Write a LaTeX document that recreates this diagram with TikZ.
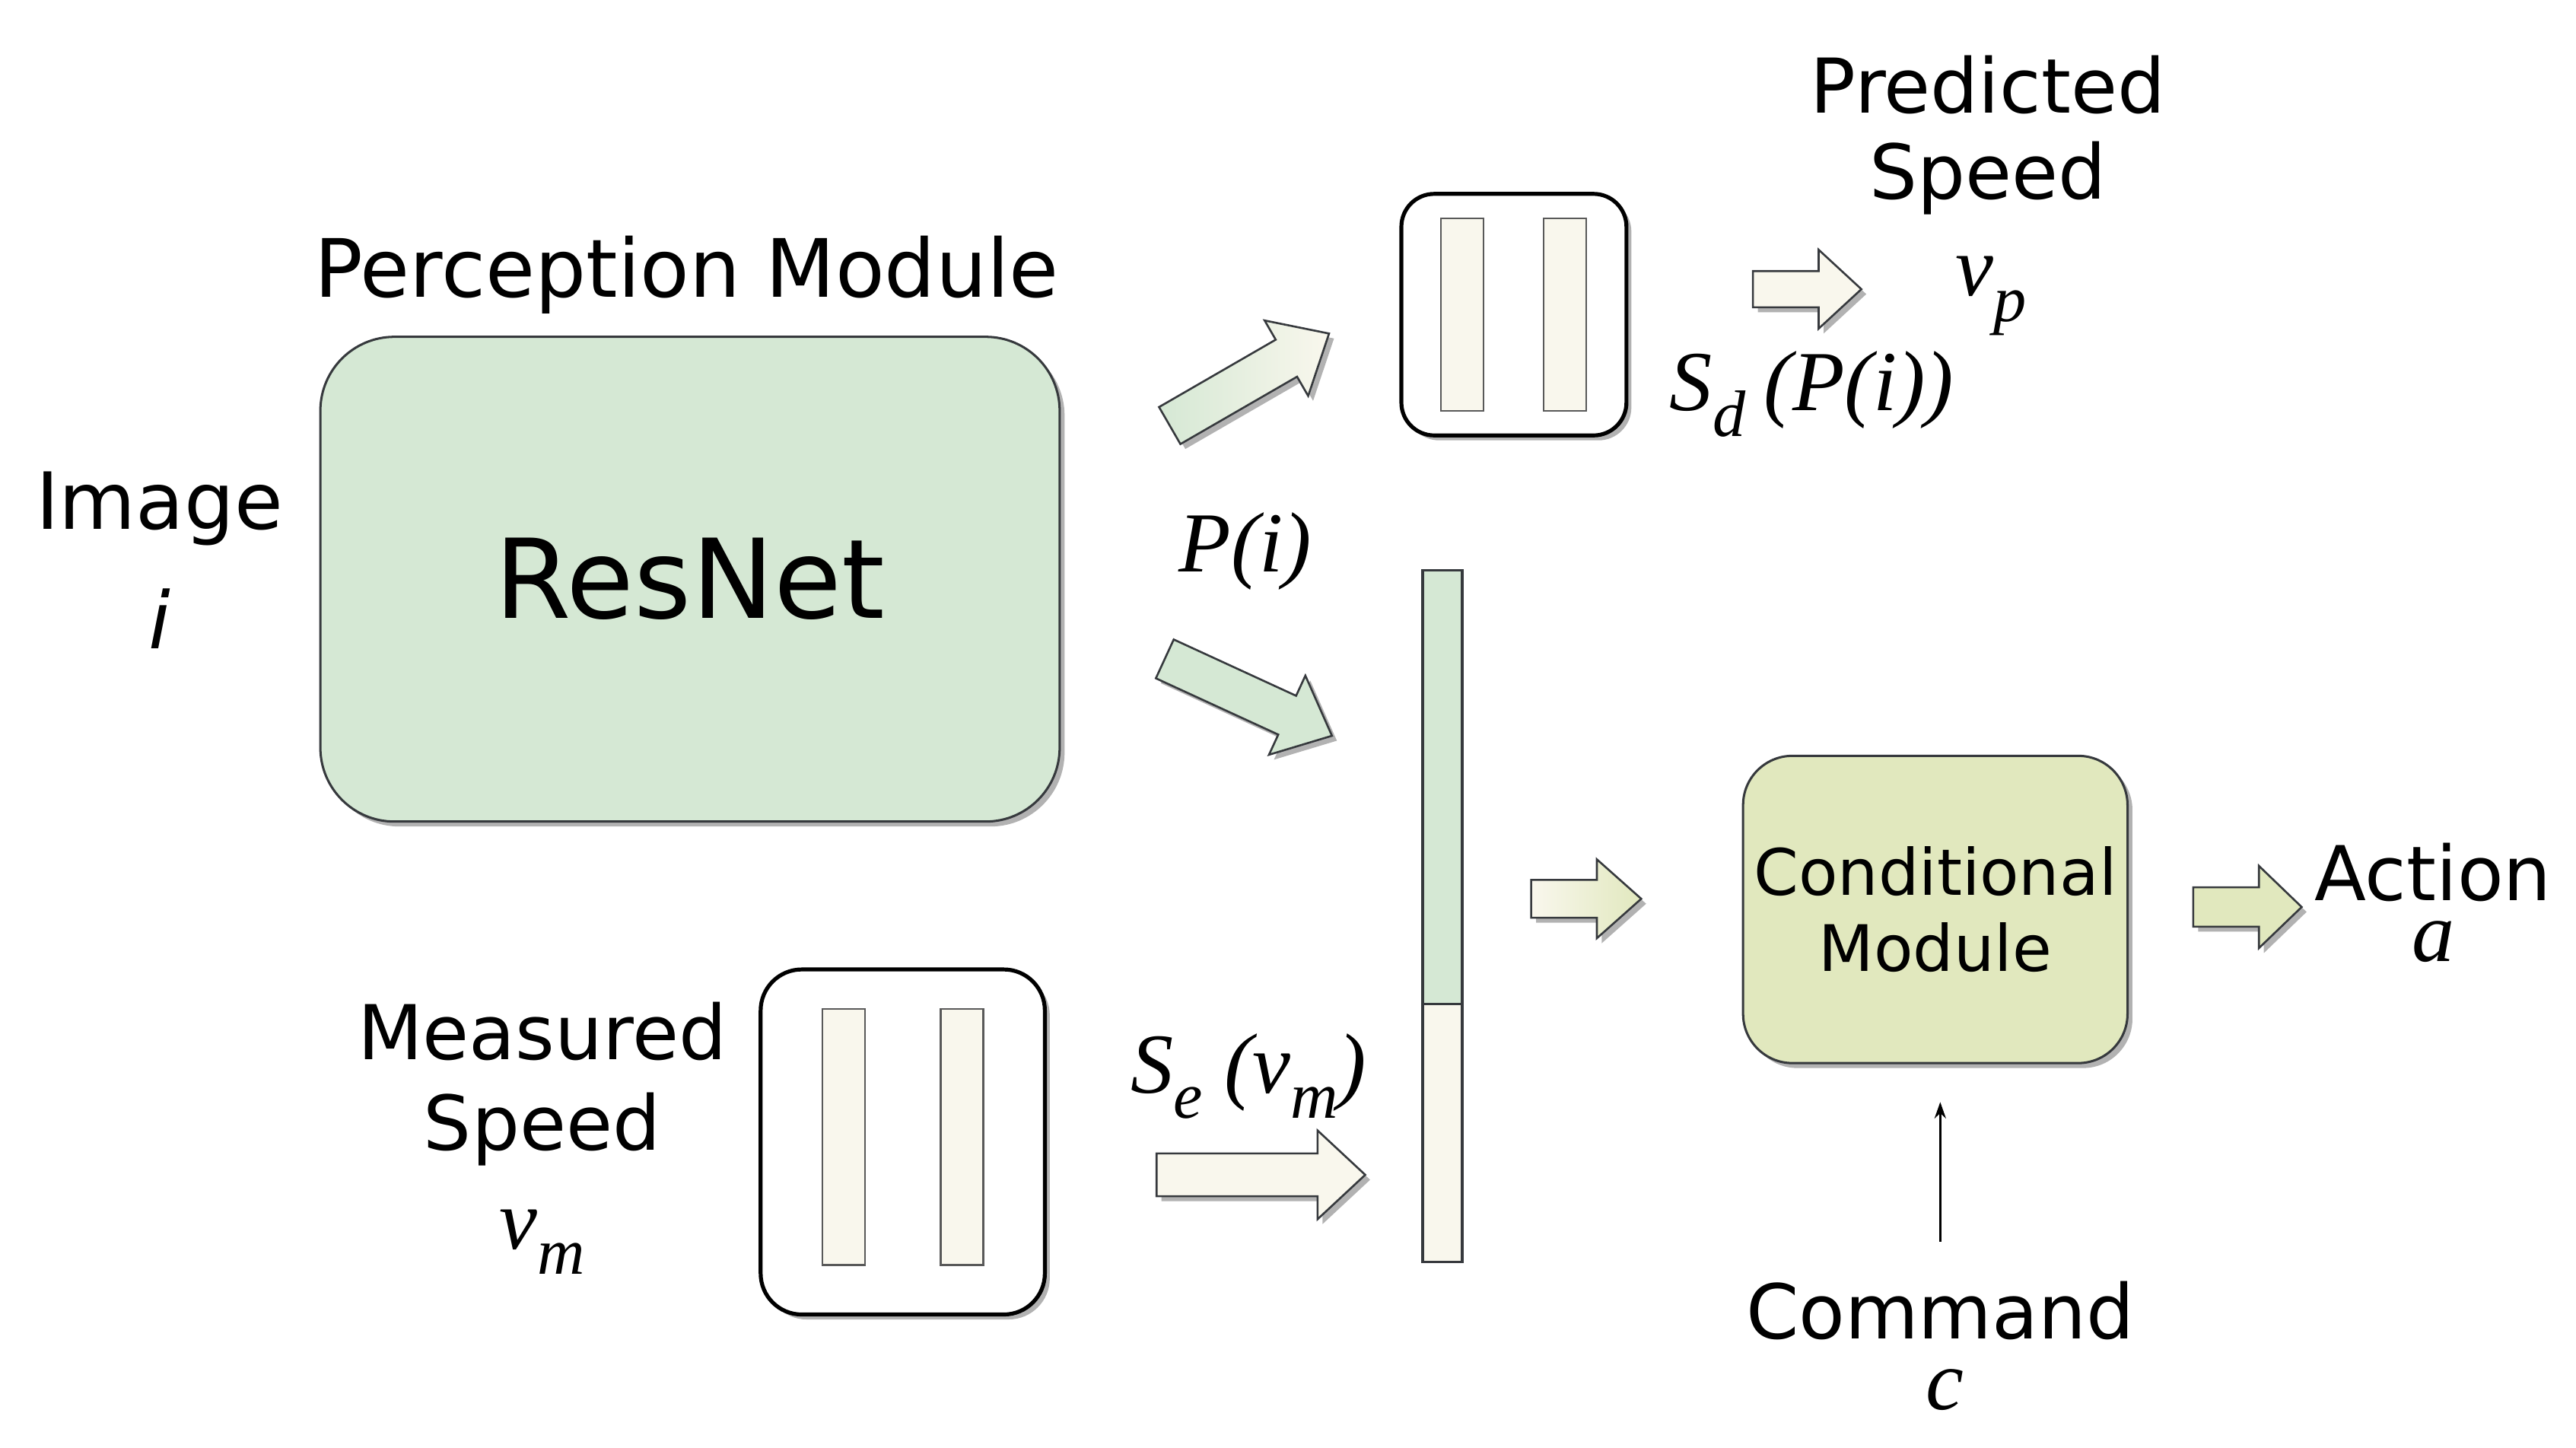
\documentclass[tikz,border=0pt]{standalone}
\usepackage{fontspec}
\setmainfont{DejaVu Sans}
\newfontfamily\tmsf{Liberation Serif}
\usetikzlibrary{shadows,arrows.meta}
\definecolor{pgreen}{HTML}{D5E8D4}
\definecolor{pivory}{HTML}{F9F7ED}
\definecolor{polive}{HTML}{E1E8BE}
\definecolor{pstroke}{HTML}{36393D}
% block arrow: style, x, y, angle, length, shaft half, head half, head length
\newcommand\barrow[8]{%
  \begin{scope}[shift={(#2,#3)},rotate=#4]
    \path[#1] (0,-#6) -- (#5-#8,-#6) -- (#5-#8,-#7) -- (#5,0) -- (#5-#8,#7) -- (#5-#8,#6) -- (0,#6) -- cycle;
  \end{scope}}
\newcommand\sbs[1]{\raisebox{-0.3em}{\fontsize{20}{20}\selectfont #1}}
\begin{document}
\begin{tikzpicture}[x=0.5pt,y=-0.5pt,
  lbl/.style={font=\fontsize{23}{27}\selectfont, anchor=base, inner sep=0pt},
  mlbl/.style={font=\fontsize{26}{30}\selectfont\tmsf\itshape, anchor=base, inner sep=0pt},
  shd/.style={drop shadow={shadow xshift=1.5pt,shadow yshift=-1.5pt,opacity=0.3,fill=black}},
  module/.style={draw=pstroke, line width=0.7pt, shd, inner sep=0pt},
  fcbox/.style={draw=black, fill=white, line width=1.2pt, shd},
  barst/.style={draw=gray!70!black, line width=0.6pt, fill=pivory, inner sep=0pt, minimum width=13pt},
  barr/.style={draw=pstroke, line width=0.6pt, shd},
  cmdarrow/.style={-{Stealth[length=5pt,width=3.5pt]}, line width=0.6pt, draw=black},
]
\useasboundingbox (0,0) rectangle (1568,881);

% Perception module
\node[lbl, font=\fontsize{24.5}{28}\selectfont] (perlbl) at (418,181) {Perception Module};
\node[module, fill=pgreen, rounded corners=22.5pt, minimum width=225pt, minimum height=147.5pt,
      font=\fontsize{33.5}{36}\selectfont] (resnet) at (420,352.5) {ResNet};
\node[lbl, font=\fontsize{24}{28}\selectfont] (imglbl) at (97,322) {Image};
\node[lbl, font=\fontsize{24}{28}\selectfont\itshape] (ilbl) at (97,395) {i};

% speed decoder box
\node[fcbox, rounded corners=10pt, minimum width=68.5pt, minimum height=73.5pt] (sd) at (921.5,191.5) {};
\node[barst, minimum height=58.5pt] (sdb1) at (890,191.5) {};
\node[barst, minimum height=58.5pt] (sdb2) at (952.5,191.5) {};
\node[mlbl, anchor=base west] (sdlbl) at (1016,250) {S\sbs{d}\hspace{0.22em}(P(i))};
\node[lbl] (predlbl) at (1210,69) {Predicted};
\node[lbl] (pspeedlbl) at (1210,121) {Speed};
\node[mlbl] (vplbl) at (1212,180) {v\sbs{p}};

% measured speed encoder box
\node[fcbox, rounded corners=12.5pt, minimum width=86.5pt, minimum height=105pt] (se) at (549.5,695) {};
\node[barst, minimum height=78pt] (seb1) at (513.5,692) {};
\node[barst, minimum height=78pt] (seb2) at (585.5,692) {};
\node[lbl] (measlbl) at (330,645) {Measured};
\node[lbl] (mspeedlbl) at (330,700) {Speed};
\node[mlbl] (vmlbl) at (330,760) {v\sbs{m}};
\node[mlbl, anchor=base west] (selbl) at (688,665) {S\sbs{e}\hspace{0.25em}(v\sbs{m})};

% P(i) label
\node[mlbl] (pilbl) at (758,348) {P(i)};

% joint vector
\node[draw=pstroke, line width=0.8pt, fill=pgreen, inner sep=0pt, minimum width=12pt, minimum height=132pt] (vtop) at (878,479) {};
\node[draw=pstroke, line width=0.8pt, fill=pivory, inner sep=0pt, minimum width=12pt, minimum height=78.5pt] (vbot) at (878,689.5) {};

% conditional module
\node[module, fill=polive, rounded corners=15pt, minimum width=117pt, minimum height=93.5pt,
      font=\fontsize{19.5}{23}\selectfont, align=center] (cond) at (1178,553.5) {Conditional\\Module};
\node[lbl] (actlbl) at (1481,548) {Action};
\node[mlbl, text height=0.42em] (albl) at (1481,585) {a};
\node[lbl] (cmdlbl) at (1181,815) {Command};
\node[mlbl, text height=0.42em] (clbl) at (1184,858) {c};

% block arrows
\barrow{barr, left color=pgreen, right color=pivory}{712}{259}{30}{112}{13}{26.5}{30}
\barrow{barr, fill=pgreen}{709}{401}{-24.7}{112}{13}{26.5}{30}
\barrow{barr, left color=pivory, right color=polive}{932}{547}{0}{67}{11.5}{24}{27}
\barrow{barr, fill=polive}{1335}{552}{0}{66}{12}{25}{26}
\barrow{barr, fill=pivory}{1067}{176}{0}{66}{11}{24}{26}
\barrow{barr, fill=pivory}{704}{715}{0}{127}{13}{27}{29}

% command arrow
\draw[cmdarrow, shorten <=12pt, shorten >=11.5pt] (cmdlbl.north -| cond.south) ++(3,0) -- ([xshift=1.5pt]cond.south);
\end{tikzpicture}
\end{document}
